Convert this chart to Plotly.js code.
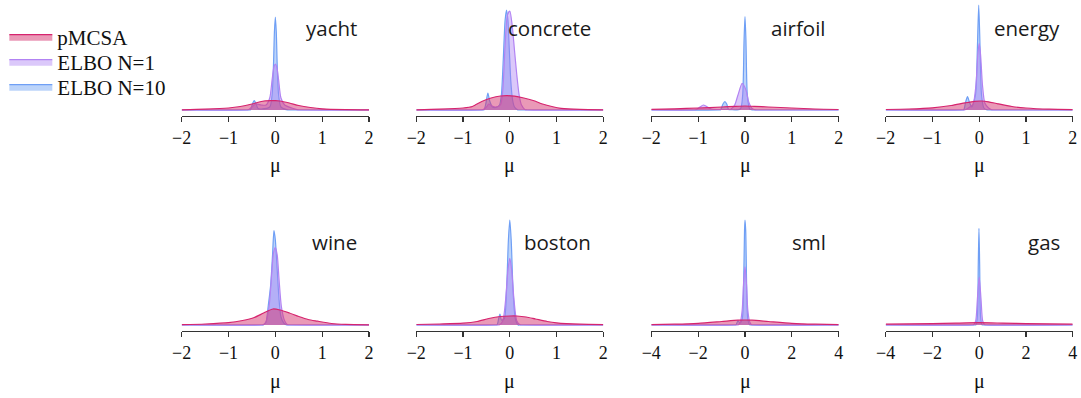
<!DOCTYPE html>
<html>
<head>
<meta charset="utf-8">
<script src="https://cdn.plot.ly/plotly-3.0.1.min.js"></script>
<style>html,body{margin:0;padding:0;background:#fff;}#chart{width:1081px;height:398px;}</style>
</head>
<body>
<div id="chart"></div>
<script>
// ---------- data (density estimates) ----------
const datasets = ["yacht", "concrete", "airfoil", "energy", "wine", "boston", "sml", "gas"];
const seriesNames = ["pMCSA", "ELBO N=1", "ELBO N=10"];
const ticksNarrow = [-2, -1, 0, 1, 2];
const ticksWide = [-4, -2, 0, 2, 4];
const axisTitle = "\u03bc";

// yacht
const yacht_pmcsa_x = [-2, -1.5, -1.0, -0.75, -0.5, -0.3, -0.1, 0, 0.1, 0.3, 0.5, 0.75, 1.0, 1.5, 2];
const yacht_pmcsa_y = [0.02, 0.08, 0.2, 0.35, 0.6, 0.85, 0.93, 0.93, 0.9, 0.7, 0.45, 0.25, 0.12, 0.04, 0.02];
const yacht_n1_x = [-2, -0.62, -0.58, -0.5, -0.42, -0.3, -0.2, -0.12, -0.07, -0.03, 0, 0.03, 0.07, 0.12, 0.2, 0.35, 0.48, 0.52, 2];
const yacht_n1_y = [0, 0, 0.02, 0.3, 0.6, 0.5, 0.5, 1.2, 3.0, 4.3, 4.6, 4.3, 3.0, 1.2, 0.5, 0.2, 0.02, 0, 0];
const yacht_n10_x = [-2, -0.56, -0.53, -0.49, -0.45, -0.41, -0.37, -0.3, -0.12, -0.07, -0.04, -0.02, 0, 0.02, 0.04, 0.07, 0.12, 0.26, 0.3, 2];
const yacht_n10_y = [0, 0, 0.02, 0.6, 0.93, 0.6, 0.15, 0.1, 0.3, 1.5, 4.5, 7.8, 9.3, 7.8, 4.5, 1.5, 0.3, 0.01, 0, 0];

// concrete
const concrete_pmcsa_x = [-2, -1.5, -1.0, -0.8, -0.6, -0.4, -0.2, -0.05, 0.1, 0.3, 0.5, 0.7, 0.9, 1.1, 1.5, 2];
const concrete_pmcsa_y = [0.02, 0.08, 0.2, 0.35, 0.85, 1.2, 1.4, 1.43, 1.38, 1.2, 0.95, 0.6, 0.35, 0.17, 0.06, 0.02];
const concrete_n1_x = [-2, -0.62, -0.58, -0.5, -0.45, -0.38, -0.3, -0.2, -0.15, -0.1, -0.05, 0, 0.05, 0.1, 0.15, 0.2, 0.25, 0.33, 0.37, 2];
const concrete_n1_y = [0, 0, 0.02, 0.3, 0.6, 0.4, 0.3, 0.5, 2.0, 6.5, 9.5, 9.9, 8.5, 6.0, 3.5, 1.5, 0.5, 0.03, 0, 0];
const concrete_n10_x = [-2, -0.58, -0.55, -0.51, -0.47, -0.43, -0.37, -0.3, -0.22, -0.18, -0.14, -0.1, -0.07, -0.04, -0.01, 0.02, 0.06, 0.1, 0.17, 0.2, 2];
const concrete_n10_y = [0, 0, 0.02, 0.7, 1.7, 0.9, 0.3, 0.25, 0.5, 1.5, 5.0, 9.0, 10.0, 9.0, 6.0, 3.0, 1.0, 0.3, 0.01, 0, 0];

// airfoil
const airfoil_pmcsa_x = [-2, -1.5, -1, -0.5, -0.2, 0, 0.2, 0.5, 1, 1.5, 2];
const airfoil_pmcsa_y = [0.06, 0.12, 0.2, 0.3, 0.37, 0.4, 0.37, 0.3, 0.2, 0.1, 0.05];
const airfoil_n1_x = [-2, -1.1, -1.05, -0.96, -0.89, -0.82, -0.72, -0.5, -0.3, -0.22, -0.15, -0.06, 0.02, 0.08, 0.15, 0.22, 0.26, 2];
const airfoil_n1_y = [0, 0, 0.02, 0.3, 0.5, 0.35, 0.1, 0.05, 0.1, 0.5, 1.5, 2.67, 2.0, 0.8, 0.15, 0.01, 0, 0];
const airfoil_n10_x = [-2, -0.55, -0.52, -0.47, -0.43, -0.39, -0.35, -0.3, -0.1, -0.05, -0.02, 0, 0.02, 0.05, 0.1, 0.16, 0.2, 2];
const airfoil_n10_y = [0, 0, 0.02, 0.6, 0.83, 0.6, 0.05, 0.03, 0.1, 1.5, 7.0, 9.33, 7.0, 1.5, 0.1, 0.01, 0, 0];

// energy
const energy_pmcsa_x = [-2, -1.5, -1, -0.6, -0.3, -0.1, 0.05, 0.2, 0.4, 0.7, 1, 1.5, 2];
const energy_pmcsa_y = [0.05, 0.1, 0.22, 0.45, 0.72, 0.87, 0.9, 0.82, 0.62, 0.35, 0.2, 0.08, 0.04];
const energy_n1_x = [-2, -0.34, -0.3, -0.2, -0.13, -0.07, -0.03, 0, 0.03, 0.07, 0.12, 0.2, 0.27, 0.31, 2];
const energy_n1_y = [0, 0, 0.02, 0.3, 0.6, 2.5, 5.5, 6.67, 5.5, 2.5, 0.7, 0.2, 0.01, 0, 0];
const energy_n10_x = [-2, -0.36, -0.33, -0.29, -0.25, -0.21, -0.16, -0.08, -0.04, -0.01, 0.02, 0.05, 0.1, 0.17, 0.21, 2];
const energy_n10_y = [0, 0, 0.02, 0.8, 1.33, 0.8, 0.3, 1.5, 6.0, 10.5, 6.0, 1.5, 0.2, 0.01, 0, 0];

// wine
const wine_pmcsa_x = [-2, -1.5, -1.0, -0.7, -0.45, -0.25, -0.05, 0.1, 0.3, 0.5, 0.7, 0.9, 1.2, 1.5, 2];
const wine_pmcsa_y = [0.03, 0.1, 0.23, 0.45, 0.75, 1.2, 1.6, 1.5, 1.2, 0.85, 0.55, 0.38, 0.15, 0.06, 0.02];
const wine_n1_x = [-2, -0.3, -0.26, -0.2, -0.13, -0.08, -0.04, 0, 0.04, 0.08, 0.13, 0.2, 0.26, 0.3, 2];
const wine_n1_y = [0, 0, 0.02, 0.3, 2.0, 5.0, 7.2, 7.73, 7.0, 4.5, 1.8, 0.4, 0.02, 0, 0];
const wine_n10_x = [-2, -0.28, -0.25, -0.2, -0.15, -0.1, -0.06, -0.03, 0, 0.04, 0.08, 0.12, 0.18, 0.24, 0.28, 2];
const wine_n10_y = [0, 0, 0.02, 0.3, 2.0, 4.0, 7.0, 9.43, 8.5, 5.5, 2.5, 0.8, 0.2, 0.01, 0, 0];

// boston
const boston_pmcsa_x = [-2, -1.5, -1, -0.7, -0.45, -0.2, 0, 0.15, 0.35, 0.55, 0.8, 1.0, 1.5, 2];
const boston_pmcsa_y = [0.05, 0.1, 0.18, 0.35, 0.65, 0.85, 0.9, 0.9, 0.8, 0.6, 0.35, 0.22, 0.08, 0.03];
const boston_n1_x = [-2, -0.26, -0.22, -0.15, -0.09, -0.04, 0, 0.04, 0.09, 0.15, 0.22, 0.26, 2];
const boston_n1_y = [0, 0, 0.02, 0.4, 2.5, 5.5, 6.67, 5.5, 2.5, 0.4, 0.02, 0, 0];
const boston_n10_x = [-2, -0.3, -0.27, -0.24, -0.21, -0.18, -0.12, -0.07, -0.03, 0, 0.03, 0.07, 0.12, 0.18, 0.22, 2];
const boston_n10_y = [0, 0, 0.02, 0.6, 1.1, 0.5, 0.6, 3.5, 8.5, 10.5, 8.5, 3.5, 0.6, 0.01, 0, 0];

// sml
const sml_pmcsa_x = [-4, -3, -2, -1, -0.3, 0, 0.3, 1, 2, 3, 4];
const sml_pmcsa_y = [0.03, 0.08, 0.17, 0.35, 0.48, 0.5, 0.48, 0.35, 0.17, 0.08, 0.03];
const sml_n1_x = [-4, -0.34, -0.28, -0.2, -0.12, -0.06, 0, 0.06, 0.12, 0.2, 0.28, 0.34, 4];
const sml_n1_y = [0, 0, 0.02, 0.3, 1.5, 4.2, 5.83, 4.2, 1.5, 0.3, 0.02, 0, 0];
const sml_n10_x = [-4, -0.44, -0.38, -0.3, -0.22, -0.12, -0.06, -0.02, 0, 0.03, 0.07, 0.12, 0.2, 0.26, 4];
const sml_n10_y = [0, 0, 0.02, 0.45, 0.2, 0.6, 4.0, 9.5, 10.5, 9.5, 4.0, 0.6, 0.02, 0, 0];

// gas
const gas_pmcsa_x = [-4, -2, -1, 0, 1, 2, 4];
const gas_pmcsa_y = [0.08, 0.14, 0.19, 0.23, 0.19, 0.14, 0.08];
const gas_n1_x = [-4, -0.3, -0.24, -0.15, -0.08, 0, 0.08, 0.15, 0.24, 0.3, 4];
const gas_n1_y = [0, 0, 0.02, 0.4, 2.5, 4.8, 2.5, 0.4, 0.02, 0, 0];
const gas_n10_x = [-4, -0.19, -0.14, -0.08, -0.04, -0.01, 0.02, 0.06, 0.12, 0.17, 4];
const gas_n10_y = [0, 0, 0.02, 0.8, 6.0, 9.67, 6.0, 0.8, 0.02, 0, 0];

const curves = {
  yacht: [[yacht_pmcsa_x, yacht_pmcsa_y], [yacht_n1_x, yacht_n1_y], [yacht_n10_x, yacht_n10_y]],
  concrete: [[concrete_pmcsa_x, concrete_pmcsa_y], [concrete_n1_x, concrete_n1_y], [concrete_n10_x, concrete_n10_y]],
  airfoil: [[airfoil_pmcsa_x, airfoil_pmcsa_y], [airfoil_n1_x, airfoil_n1_y], [airfoil_n10_x, airfoil_n10_y]],
  energy: [[energy_pmcsa_x, energy_pmcsa_y], [energy_n1_x, energy_n1_y], [energy_n10_x, energy_n10_y]],
  wine: [[wine_pmcsa_x, wine_pmcsa_y], [wine_n1_x, wine_n1_y], [wine_n10_x, wine_n10_y]],
  boston: [[boston_pmcsa_x, boston_pmcsa_y], [boston_n1_x, boston_n1_y], [boston_n10_x, boston_n10_y]],
  sml: [[sml_pmcsa_x, sml_pmcsa_y], [sml_n1_x, sml_n1_y], [sml_n10_x, sml_n10_y]],
  gas: [[gas_pmcsa_x, gas_pmcsa_y], [gas_n1_x, gas_n1_y], [gas_n10_x, gas_n10_y]]
};
const xRanges = [[-2, 2], [-2, 2], [-2, 2], [-2, 2], [-2, 2], [-2, 2], [-4, 4], [-4, 4]];

// ---------- styling ----------
const lineColors = ["#d6246e", "#b283f3", "#6f9ff5"];
const fillColors = ["rgba(214,51,112,0.5)", "rgba(170,125,242,0.42)", "rgba(95,152,242,0.42)"];
const serif = "Liberation Serif";
const sans = "Open Sans";
const W = 1081, H = 398;
const colPx = [[181.7, 369], [416.3, 603.3], [651.3, 838.7], [885.7, 1072.7]];
const rowPx = [[4, 116], [219, 331]]; // top, bottom (axis line)
const legendNames = ["legend", "legend2", "legend3"];
const legendYPx = [37, 62, 87];
const muYPx = [166, 381];

const traces = [];
const layout = {
  width: W, height: H,
  margin: {l: 0, r: 0, t: 0, b: 0},
  paper_bgcolor: "#fff", plot_bgcolor: "#fff",
  showlegend: true,
  annotations: []
};
legendNames.forEach((ln, k) => {
  layout[ln] = {x: 0.004, y: 1 - legendYPx[k] / H, xanchor: "left", yanchor: "middle",
    bgcolor: "rgba(0,0,0,0)", borderwidth: 0,
    font: {family: serif, size: 21, color: "#111"}, itemwidth: 43};
});

datasets.forEach((name, i) => {
  const r = Math.floor(i / 4), c = i % 4;
  const ax = i === 0 ? "" : String(i + 1);
  const xa = "x" + ax, ya = "y" + ax;
  // draw N=10 first, then N=1, then pMCSA on top
  [2, 1, 0].forEach(s => {
    traces.push({
      type: "scatter", mode: "lines",
      x: curves[name][s][0], y: curves[name][s][1],
      xaxis: xa, yaxis: ya,
      fill: "tozeroy", fillcolor: fillColors[s],
      line: {color: lineColors[s], width: 1.2, shape: "spline", smoothing: 0.7},
      name: seriesNames[s], legendgroup: seriesNames[s], legend: legendNames[s],
      showlegend: i === 0, hoverinfo: "skip"
    });
  });
  const ticks = xRanges[i][1] === 4 ? ticksWide : ticksNarrow;
  layout["xaxis" + ax] = {
    domain: [colPx[c][0] / W, colPx[c][1] / W],
    anchor: ya, range: xRanges[i], fixedrange: true,
    tickvals: ticks, ticktext: ticks.map(v => v < 0 ? "\u2212" + Math.abs(v) : String(v)),
    ticks: "outside", ticklen: 5, tickwidth: 1.2, tickcolor: "#333",
    showline: true, linecolor: "#333", linewidth: 1.4,
    showgrid: false, zeroline: false,
    tickfont: {family: serif, size: 18, color: "#111"},
    automargin: false
  };
  layout["yaxis" + ax] = {
    domain: [1 - rowPx[r][1] / H, 1 - rowPx[r][0] / H],
    anchor: xa, range: [-0.6, 10.6], fixedrange: true,
    visible: false, showgrid: false, zeroline: false
  };
  layout.annotations.push({
    text: name, xref: xa + " domain", yref: ya + " domain",
    x: 0.945, y: r === 0 ? 0.786 : 0.795, xanchor: "right", yanchor: "middle",
    showarrow: false, font: {family: sans, size: 20.5, color: "#1a1a1a"}
  });
  // axis label (μ) under each subplot
  layout.annotations.push({
    text: axisTitle, xref: xa + " domain", yref: "paper",
    x: 0.5, y: 1 - muYPx[r] / H, xanchor: "center", yanchor: "middle",
    showarrow: false, font: {family: serif, size: 20, color: "#111"}
  });
});

Plotly.newPlot("chart", traces, layout, {staticPlot: true, displayModeBar: false});
</script>
</body>
</html>
